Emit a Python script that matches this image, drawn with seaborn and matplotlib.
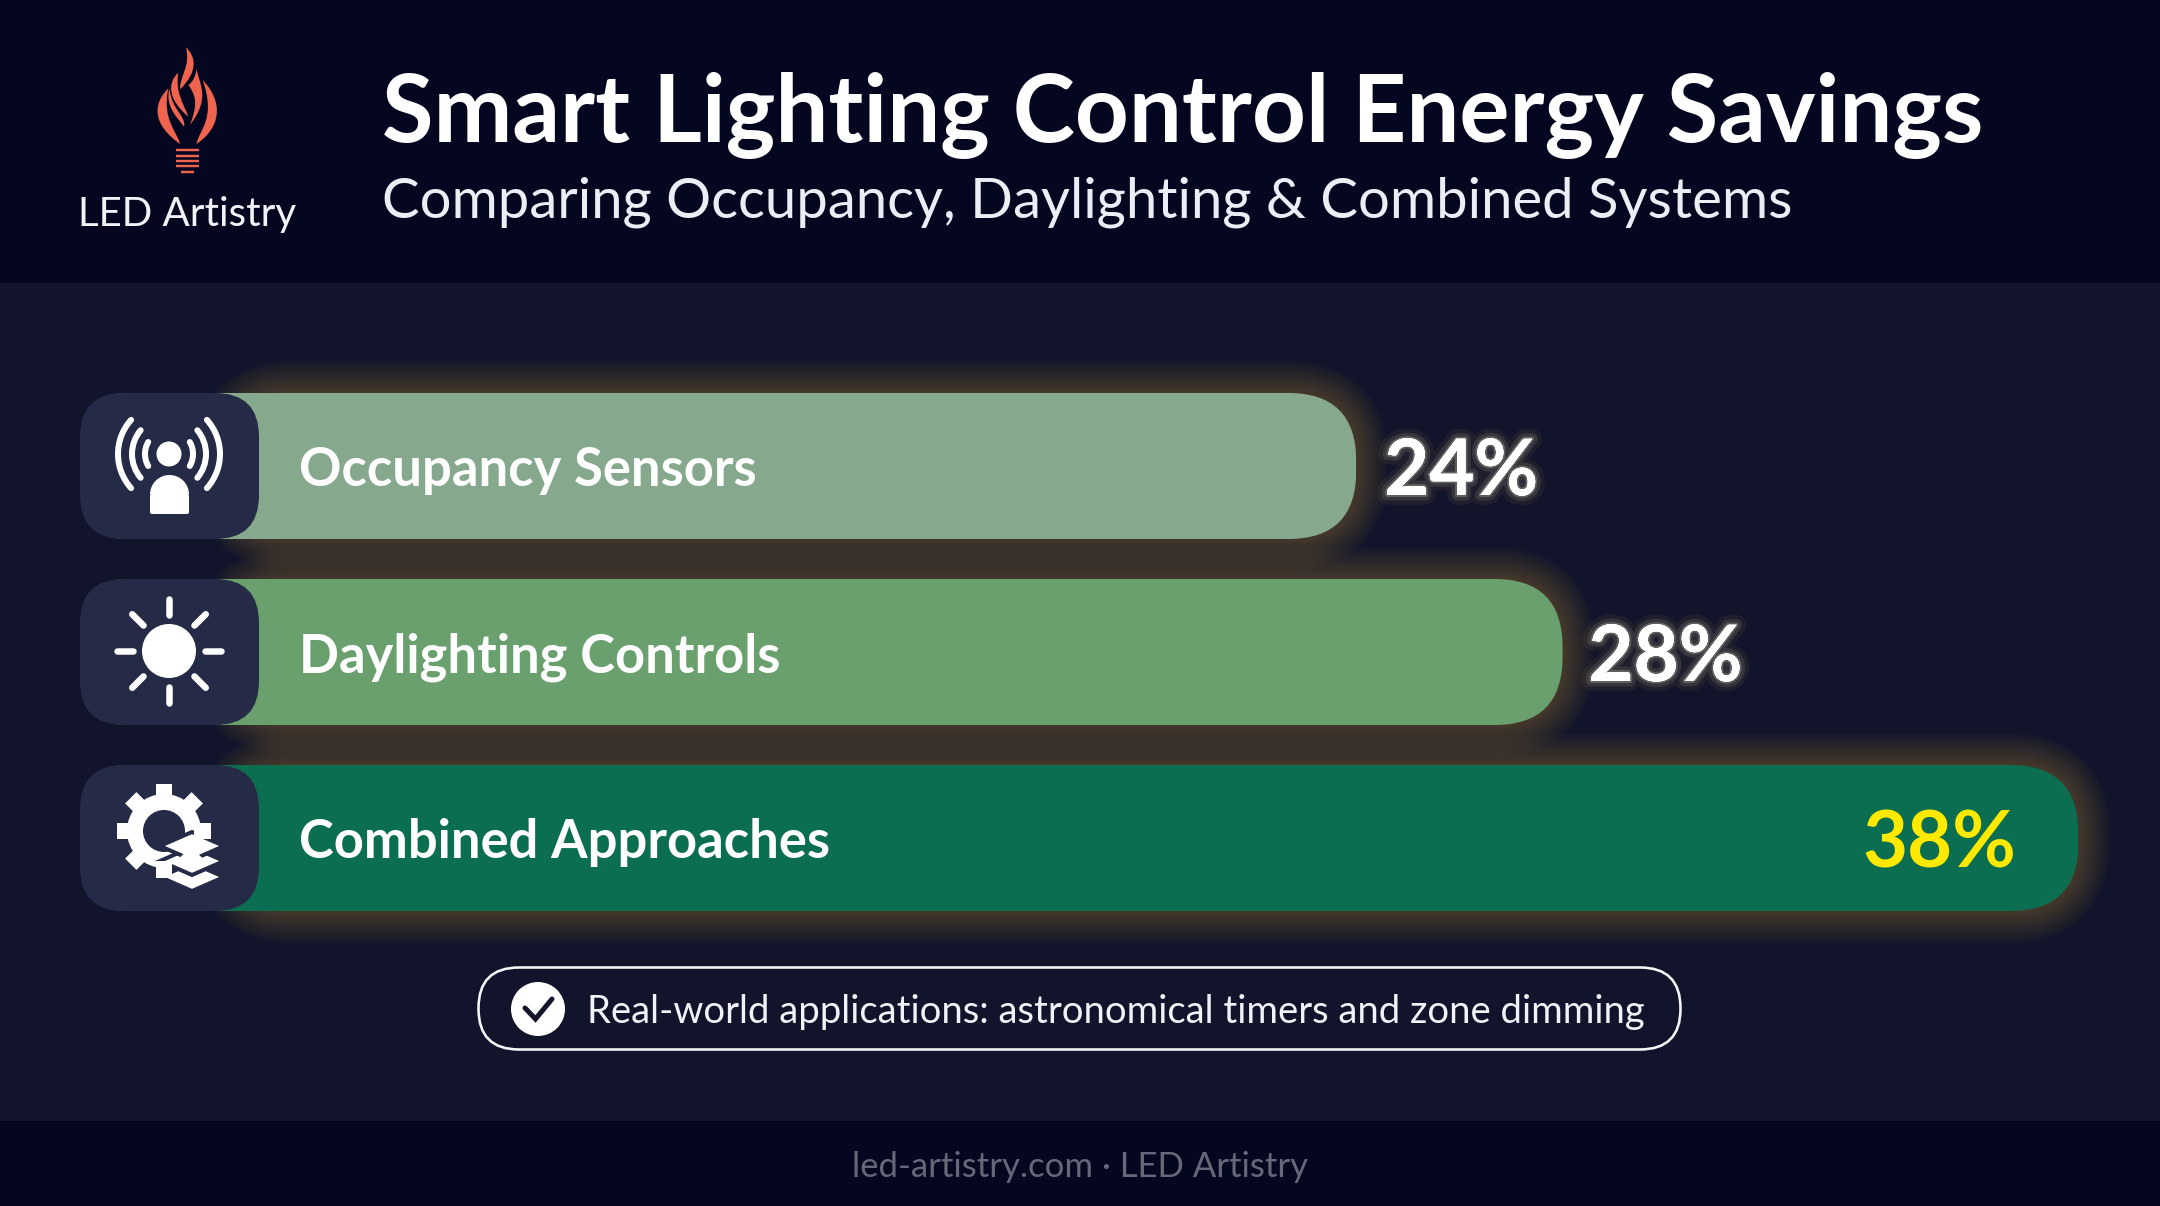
#!/usr/bin/env python3
# -*- coding: utf-8 -*-

import numpy as np
import matplotlib
matplotlib.use('Agg')
import matplotlib.pyplot as plt
import matplotlib.patheffects as pe
from matplotlib.patches import FancyBboxPatch, Rectangle, Circle, Arc, PathPatch, Polygon, Wedge
from matplotlib.path import Path
import seaborn as sns

W, H = 2160, 1206

categories = ['Occupancy Sensors', 'Daylighting Controls', 'Combined Approaches']
savings = [24, 28, 38]
bar_colors = ['#86a98d', '#69a06e', '#0b6e50']
value_colors = ['#ffffff', '#ffffff', '#ffe900']

title = 'Smart Lighting Control Energy Savings'
subtitle = 'Comparing Occupancy, Daylighting & Combined Systems'
brand = 'LED Artistry'
note = 'Real-world applications: astronomical timers and zone dimming'
footer = 'led-artistry.com · LED Artistry'

HEADER_BG = '#05061f'
PANEL_BG = '#11142a'
TILE = '#252a46'
FLAME = '#f0634f'
GLOW = '#c09a50'

sns.set_theme(style='dark')
plt.rcParams['font.family'] = ['Lato', 'DejaVu Sans']

fig = plt.figure(figsize=(W / 100, H / 100), dpi=100, facecolor=PANEL_BG)


def px_axes(zorder):
    a = fig.add_axes([0, 0, 1, 1], zorder=zorder)
    a.set_xlim(0, W)
    a.set_ylim(H, 0)
    a.axis('off')
    a.patch.set_alpha(0)
    return a


def lw(p):
    return p * 0.72


ax_bg = px_axes(0)
ax_top = px_axes(2)

# fond
ax_bg.add_patch(Rectangle((0, 0), W, H, color=PANEL_BG, lw=0))
ax_bg.add_patch(Rectangle((0, 0), W, 283, color=HEADER_BG, lw=0))
ax_bg.add_patch(Rectangle((0, 1121), W, H - 1121, color=HEADER_BG, lw=0))

# barres: axe x en %, 0 -> 118 px, 1% -> 51.6 px
ax = fig.add_axes([0, 0, 1, 1], zorder=1)
sns.barplot(x=savings, y=categories, hue=categories, palette=bar_colors, saturation=1,
            legend=False, width=146 / 186, orient='h', linewidth=0, ax=ax)
ax.set_xlim(-118.3 / 51.58, (W - 118.3) / 51.58)
ax.set_ylim((H - 466) / 186, -466 / 186)
ax.axis('off')
ax.patch.set_alpha(0)

to_px = ax.transData + ax_top.transData.inverted()

for bar in ax.patches:
    (x0, y0), (x1, y1) = to_px.transform([(bar.get_x(), bar.get_y()),
                                          (bar.get_x() + bar.get_width(), bar.get_y() + bar.get_height())])
    top, bottom = min(y0, y1), max(y0, y1)
    r = 68
    # halo autour de la barre
    for grow in range(32, 0, -2):
        ax_bg.add_patch(FancyBboxPatch((225 + r, top + r), x1 - 225 - 2 * r, bottom - top - 2 * r,
                                       boxstyle=f'round,pad={r},rounding_size={r}',
                                       fc='none', ec=GLOW, lw=lw(grow * 2), alpha=0.022))
    clip = FancyBboxPatch((x0 - 100 + r, top + r), x1 - x0 + 100 - 2 * r, bottom - top - 2 * r,
                          boxstyle=f'round,pad={r},rounding_size={r}',
                          transform=ax_top.transData)
    bar.set_clip_path(clip)
    # tuile icone
    ax_top.add_patch(FancyBboxPatch((80 + 44, top + 44), 179 - 88, bottom - top - 88,
                                    boxstyle='round,pad=44,rounding_size=44', fc=TILE, ec='none'))

# libelles
for i, name in enumerate(categories):
    ax_top.text(299, 466 + 186 * i, name, color='#ffffff', fontsize=37.8, fontweight='bold',
                ha='left', va='center_baseline')

value_offset = [28, 26, -62]
value_align = ['left', 'left', 'right']
for i, v in enumerate(savings):
    t = ax.annotate(f'{v}%', xy=(v, i), xytext=(value_offset[i], 0), textcoords='offset pixels',
                    color=value_colors[i], fontsize=56, fontweight='bold',
                    ha=value_align[i], va='center_baseline', zorder=5)
    if i < 2:
        t.set_path_effects([pe.withStroke(linewidth=14, foreground=GLOW, alpha=0.08),
                            pe.withStroke(linewidth=8, foreground='#e8d8b0', alpha=0.12),
                            pe.withStroke(linewidth=3, foreground='#fff4d8', alpha=0.22),
                            pe.Normal()])

# entete
ax_top.text(382, 107, title, color='#ffffff', fontsize=67.7, fontweight='bold', ha='left', va='center_baseline')
ax_top.text(382, 197, subtitle, color='#eceef5', fontsize=40.5, fontweight='normal', ha='left', va='center_baseline')
ax_top.text(187, 211, brand, color='#f2f3f8', fontsize=29, fontweight='normal', ha='center', va='center_baseline')

# logo: coordonnees du zoom 3x
def zp(pts):
    return [(40 + a / 3, 20 + b / 3) for a, b in pts]


def flame(start, *curves):
    verts = list(zp([start]))
    codes = [Path.MOVETO]
    for c in curves:
        verts += zp(c)
        codes += [Path.CURVE4] * 3
    ax_top.add_patch(PathPatch(Path(verts, codes), fc=FLAME, ec='none'))


flame((438, 82), [(468, 110), (475, 155), (420, 208)], [(420, 165), (452, 140), (438, 82)])
flame((470, 145), [(475, 190), (515, 230), (450, 315)], [(468, 265), (475, 235), (445, 195)], [(460, 185), (468, 165), (470, 145)])
flame((415, 158), [(380, 190), (385, 240), (445, 290)], [(430, 250), (405, 215), (415, 158)])
flame((388, 205), [(375, 260), (410, 290), (432, 320)], [(440, 290), (395, 270), (388, 205)])
flame((385, 205), [(335, 255), (340, 315), (420, 372)], [(412, 335), (365, 300), (385, 205)])
flame((488, 180), [(550, 245), (545, 320), (470, 372)], [(475, 330), (530, 300), (488, 180)])

base_y = [391, 407, 423, 438, 455]
base_x = [(408, 478), (408, 478), (408, 478), (408, 478), (423, 463)]
for by, (bx0, bx1) in zip(base_y, base_x):
    (a, b), (c, d) = zp([(bx0, by), (bx1, by)])
    ax_top.plot([a, c], [b, d], color=FLAME, lw=lw(2.4), solid_capstyle='butt')

# icone capteur
cx, cy = 169, 454
ax_top.add_patch(Circle((cx, cy), 12.5, fc='white', ec='none'))
ax_top.add_patch(FancyBboxPatch((150, 494), 39, 20, boxstyle='round,pad=0,rounding_size=2', fc='white', ec='none'))
ax_top.add_patch(Wedge((169.5, 494.5), 19.5, 180, 360, fc='white', ec='none'))
for rad, span in [(24, 30), (37, 40), (51, 42)]:
    for mid in (0, 180):
        ax_top.add_patch(Arc((cx, cy), 2 * rad, 2 * rad, theta1=mid - span, theta2=mid + span,
                             color='white', lw=lw(6), capstyle='round'))

# icone soleil
cx, cy = 169, 651
ax_top.add_patch(Circle((cx, cy), 27, fc='white', ec='none'))
for ang in np.arange(0, 360, 45):
    c, s = np.cos(np.radians(ang)), np.sin(np.radians(ang))
    ax_top.plot([cx + 36 * c, cx + 52 * c], [cy + 36 * s, cy + 52 * s], color='white', lw=lw(6.5),
                solid_capstyle='round')

# icone engrenage + couches
cx, cy = 164, 831
ax_top.add_patch(Circle((cx, cy), 37, fc='white', ec='none'))
for ang in np.arange(0, 360, 45):
    c, s = np.cos(np.radians(ang)), np.sin(np.radians(ang))
    ax_top.plot([cx + 30 * c, cx + 47 * c], [cy + 30 * s, cy + 47 * s], color='white', lw=lw(16),
                solid_capstyle='butt')
ax_top.add_patch(Circle((cx, cy), 21, fc=TILE, ec='none'))
for ly in (877, 861, 846):
    ax_top.add_patch(Polygon([(160, ly), (192, ly - 14), (224, ly), (192, ly + 14)], closed=True,
                             fc='white', ec=TILE, lw=lw(4), joinstyle='miter'))

# pastille du bas
ax_top.add_patch(FancyBboxPatch((478 + 41, 968 + 40), 1203 - 82, 1, boxstyle='round,pad=40.5,rounding_size=40.5',
                                fc='none', ec='#f5f5f8', lw=lw(2.6)))
ax_top.add_patch(Circle((538, 1009), 27, fc='white', ec='none'))
ax_top.plot([525, 535.5, 552], [1008, 1019, 999], color='#12152b', lw=lw(5), solid_joinstyle='miter')
ax_top.text(587, 1009, note, color='#f2f3f8', fontsize=27.5, fontweight='normal', ha='left', va='center_baseline')

ax_top.text(1080, 1164, footer, color='#666879', fontsize=25, fontweight='normal', ha='center', va='center_baseline')

plt.savefig('out.png', dpi=100, facecolor=fig.get_facecolor())
plt.close()
